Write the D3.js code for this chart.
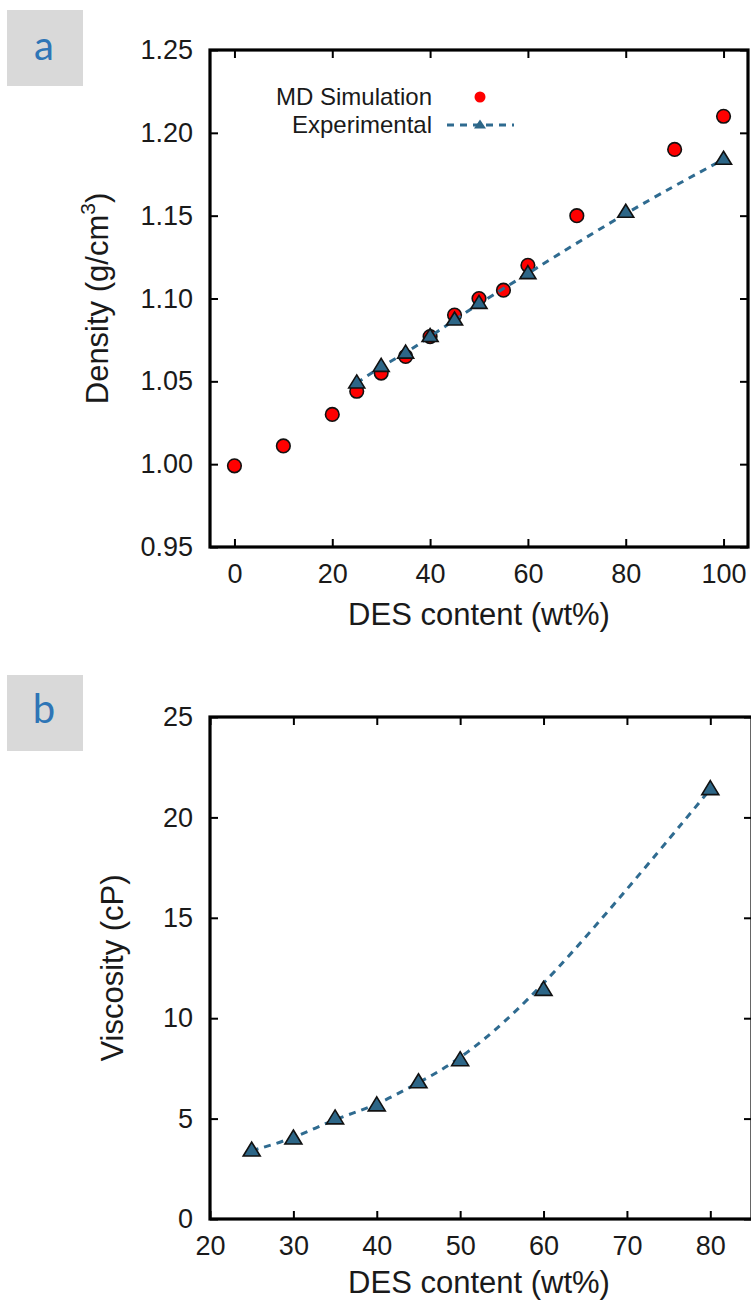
<!DOCTYPE html>
<html><head><meta charset="utf-8">
<script src="https://cdn.jsdelivr.net/npm/d3@7"></script>
<style>body{margin:0;background:#fff}svg{display:block}</style>
</head><body>
<svg id="chart" width="751" height="1309"></svg>
<script>
// ---- data ----
const densSimX = [0, 10, 20, 25, 30, 35, 40, 45, 50, 55, 60, 70, 90, 100];
const densSimY = [0.999, 1.011, 1.030, 1.044, 1.055, 1.065, 1.077, 1.090, 1.100, 1.105, 1.120, 1.150, 1.190, 1.210];
const densExpX = [25, 30, 35, 40, 45, 50, 60, 80, 100];
const densExpY = [1.049, 1.059, 1.067, 1.077, 1.087, 1.097, 1.115, 1.152, 1.184];
const viscExpX = [25, 30, 35, 40, 45, 50, 60, 80];
const viscExpY = [3.4, 4.0, 5.0, 5.65, 6.8, 7.9, 11.4, 21.4];
const densXTicks = [0, 20, 40, 60, 80, 100];
const densYTicks = [0.95, 1.00, 1.05, 1.10, 1.15, 1.20, 1.25];
const viscXTicks = [20, 30, 40, 50, 60, 70, 80];
const viscYTicks = [0, 5, 10, 15, 20, 25];
const legendLabels = ["MD Simulation", "Experimental"];
const panelLabels = ["a", "b"];
const xTitle = "DES content (wt%)";

const svg = d3.select("#chart");
const FONT = "'Liberation Sans', Arial, Helvetica, sans-serif";
const RED = "#ff0000", BLUE = "#2d6687", LINE = "#2f6b90";

// triangle with the data point near its centroid
function tri(w, h) {
  return `M0,${-h*0.62}L${w/2},${h*0.38}L${-w/2},${h*0.38}Z`;
}

function panel(opt) {
  const x = d3.scaleLinear().domain(opt.xDomain).range([opt.left, opt.right]);
  const y = d3.scaleLinear().domain(opt.yDomain).range([opt.bottom, opt.top]);
  const g = svg.append("g");

  // label box
  g.append("rect").attr("x", 7).attr("y", opt.boxY).attr("width", 76).attr("height", 76).attr("fill", "#d9d9d9");
  g.append("text").attr("x", 44).attr("y", opt.boxY + opt.letterDy).attr("text-anchor", "middle")
    .attr("font-family", "Lato, 'Open Sans', sans-serif").attr("font-size", 40).attr("fill", "#2e75b6")
    .text(opt.letter);

  const styleAxis = sel => {
    sel.select(".domain").remove();
    sel.selectAll(".tick line").attr("stroke", "#000").attr("stroke-width", 2);
    sel.selectAll(".tick text").attr("font-family", FONT).attr("font-size", 27).attr("fill", "#1a1a1a");
  };

  g.append("g").attr("transform", `translate(0,${opt.bottom})`)
    .call(d3.axisBottom(x).tickValues(opt.xTicks).tickSize(-8).tickPadding(17).tickFormat(d3.format("d")))
    .call(styleAxis);
  g.append("g").attr("transform", `translate(0,${opt.top})`)
    .call(d3.axisTop(x).tickValues(opt.xTicks).tickSize(-8).tickFormat(""))
    .call(styleAxis);
  g.append("g").attr("transform", `translate(${opt.left},0)`)
    .call(d3.axisLeft(y).tickValues(opt.yTicks).tickSize(-8).tickPadding(17).tickFormat(opt.yFormat))
    .call(styleAxis);
  g.append("g").attr("transform", `translate(${opt.right},0)`)
    .call(d3.axisRight(y).tickValues(opt.yTicks).tickSize(-8).tickFormat(""))
    .call(styleAxis);

  // frame
  g.append("rect").attr("x", opt.left).attr("y", opt.top)
    .attr("width", opt.right - opt.left).attr("height", opt.bottom - opt.top)
    .attr("fill", "none").attr("stroke", "#000").attr("stroke-width", 3.2);

  // titles
  g.append("text").attr("x", (opt.left + 748) / 2).attr("y", opt.bottom + opt.xTitleDy)
    .attr("text-anchor", "middle").attr("font-family", FONT).attr("font-size", 31).attr("fill", "#1a1a1a")
    .text(xTitle);
  const yt = g.append("text")
    .attr("transform", `translate(${opt.yTitleX},${(opt.top + opt.bottom) / 2}) rotate(-90)`)
    .attr("text-anchor", "middle").attr("font-family", FONT).attr("font-size", 31).attr("fill", "#1a1a1a");
  opt.yTitle(yt);

  return {g, x, y};
}

// ---- panel a ----
const A = panel({
  xDomain: [-5, 105], yDomain: [0.95, 1.25],
  left: 210, right: 748, top: 50, bottom: 547,
  xTicks: densXTicks, yTicks: densYTicks, yFormat: d3.format(".2f"),
  boxY: 10, letterDy: 50, letter: panelLabels[0],
  xTitleDy: 78, yTitleX: 108,
  yTitle: t => {
    t.append("tspan").text("Density (g/cm");
    t.append("tspan").attr("font-size", 21).attr("dy", -13).text("3");
    t.append("tspan").attr("dy", 13).text(")");
  }
});

const simPts = densSimX.map((v, i) => [v, densSimY[i]]);
const expPts = densExpX.map((v, i) => [v, densExpY[i]]);

A.g.append("g").selectAll("circle").data(simPts).join("circle")
  .attr("cx", d => A.x(d[0])).attr("cy", d => A.y(d[1])).attr("r", 6.8)
  .attr("fill", RED).attr("stroke", "#111").attr("stroke-width", 1.6);

A.g.append("path").datum(expPts)
  .attr("d", d3.line().curve(d3.curveBasis).x(d => A.x(d[0])).y(d => A.y(d[1])))
  .attr("fill", "none").attr("stroke", LINE).attr("stroke-width", 3).attr("stroke-dasharray", "7,6");

A.g.append("g").selectAll("path").data(expPts).join("path")
  .attr("transform", d => `translate(${A.x(d[0])},${A.y(d[1])})`)
  .attr("d", tri(16, 13)).attr("fill", BLUE).attr("stroke", "#111").attr("stroke-width", 1.6);

// legend
const lg = A.g.append("g");
lg.selectAll("text").data(legendLabels).join("text")
  .attr("x", 432).attr("y", (d, i) => 97 + i * 28).attr("dy", "0.35em")
  .attr("text-anchor", "end").attr("font-family", FONT).attr("font-size", 24).attr("fill", "#1a1a1a")
  .text(d => d);
lg.append("circle").attr("cx", 480).attr("cy", 97).attr("r", 5.5).attr("fill", RED);
lg.append("line").attr("x1", 447).attr("x2", 514).attr("y1", 125).attr("y2", 125)
  .attr("stroke", LINE).attr("stroke-width", 3).attr("stroke-dasharray", "7,6");
lg.append("path").attr("transform", "translate(480,125)").attr("d", tri(12, 9)).attr("fill", BLUE);

// ---- panel b ----
const B = panel({
  xDomain: [20, 85], yDomain: [0, 25],
  left: 210, right: 752, top: 717, bottom: 1219,
  xTicks: viscXTicks, yTicks: viscYTicks, yFormat: d3.format("d"),
  boxY: 675, letterDy: 48, letter: panelLabels[1],
  xTitleDy: 74, yTitleX: 123,
  yTitle: t => t.text("Viscosity (cP)")
});

const viscPts = viscExpX.map((v, i) => [v, viscExpY[i]]);
B.g.append("path").datum(viscPts)
  .attr("d", d3.line().curve(d3.curveBasis).x(d => B.x(d[0])).y(d => B.y(d[1])))
  .attr("fill", "none").attr("stroke", LINE).attr("stroke-width", 3).attr("stroke-dasharray", "7,6");
B.g.append("g").selectAll("path").data(viscPts).join("path")
  .attr("transform", d => `translate(${B.x(d[0])},${B.y(d[1])})`)
  .attr("d", tri(17, 14)).attr("fill", BLUE).attr("stroke", "#111").attr("stroke-width", 1.6);
</script>
</body></html>
